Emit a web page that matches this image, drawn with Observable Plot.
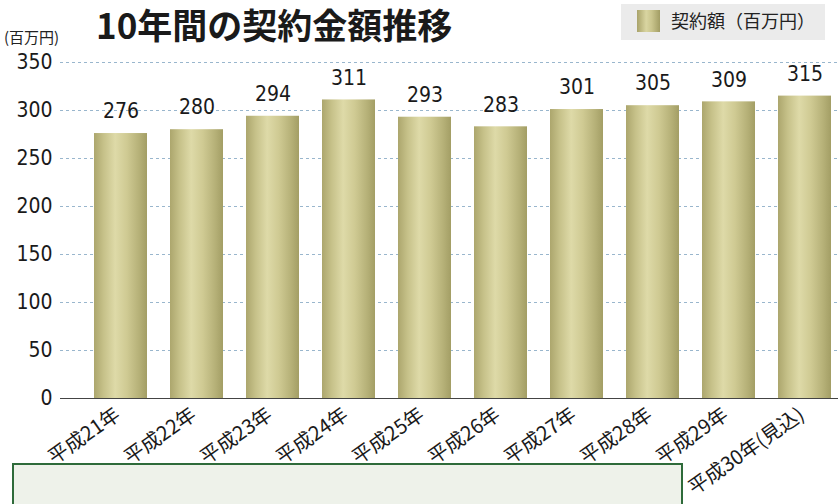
<!DOCTYPE html>
<html>
<head>
<meta charset="utf-8">
<script src="https://cdn.jsdelivr.net/npm/d3@7"></script>
<script src="https://cdn.jsdelivr.net/npm/@observablehq/plot@0.6"></script>
<style>
  html, body { margin: 0; padding: 0; background: #fff; }
  #wrap { position: relative; width: 838px; height: 504px; overflow: hidden; font-family: "Liberation Sans", "Noto Sans CJK JP", sans-serif; }
  #chart { position: absolute; left: 0; top: 0; }
  #title { position: absolute; left: 96px; top: 1px; line-height: 46px; font-family: "Noto Sans CJK JP", sans-serif; font-weight: 700; font-size: 35px; color: #1a1a1a; white-space: nowrap; }
  #unit { position: absolute; left: 4px; top: 26px; font-family: "Noto Sans CJK JP", sans-serif; font-size: 15px; color: #222; white-space: nowrap; }
  #legend { position: absolute; left: 621px; top: 4px; width: 204px; height: 36px; background: #ebebeb; }
  #legend .sw { position: absolute; left: 16px; top: 6px; width: 23px; height: 22px; background: linear-gradient(90deg, #a9a36a 0%, #d9d5a1 40%, #c9c48c 65%, #a29d64 100%); }
  #legend .lt { position: absolute; left: 50px; top: 3px; font-family: "Noto Sans CJK JP", sans-serif; font-size: 18px; color: #222; white-space: nowrap; }
  #note { position: absolute; left: 12px; top: 463px; width: 667px; height: 60px; border: 2px solid #2e6b3a; background: #eef2ea; }
</style>
</head>
<body>
<div id="wrap">
  <div id="note"></div>
  <div id="chart"></div>
  <div id="title">10年間の契約金額推移</div>
  <div id="unit">(百万円)</div>
  <div id="legend"><div class="sw"></div><div class="lt">契約額（百万円）</div></div>
</div>
<script>
const categories = ["平成21年","平成22年","平成23年","平成24年","平成25年","平成26年","平成27年","平成28年","平成29年","平成30年(見込)"];
const values = [276, 280, 294, 311, 293, 283, 301, 305, 309, 315];
const yTicks = [0, 50, 100, 150, 200, 250, 300, 350];
const gridTicks = [50, 100, 150, 200, 250, 300, 350];

const data = categories.map((c, i) => ({year: c, value: values[i]}));
const numFont = "'Liberation Sans Narrow', 'DejaVu Sans Condensed', 'Liberation Sans', sans-serif";

const chart = Plot.plot({
  width: 838,
  height: 462,
  marginLeft: 60,
  marginRight: 0,
  marginTop: 62,
  marginBottom: 64,
  style: { fontFamily: numFont, background: "transparent", overflow: "visible" },
  x: { domain: categories, range: [82, 844], paddingInner: 0.3, paddingOuter: 0.15, label: null },
  y: { domain: [0, 350], range: [398, 62], label: null },
  marks: [
    Plot.gridY(gridTicks, { stroke: "#7fa3c0", strokeOpacity: 1, strokeDasharray: "3,3", strokeWidth: 0.8 }),
    Plot.barY(data, { x: "year", y: "value", fill: "url(#barGrad)" }),
    Plot.ruleY([0], { stroke: "#444", strokeWidth: 1.2 }),
    Plot.text(data, { x: "year", y: "value", text: d => String(d.value), dy: -22, fontSize: 21, fill: "#1a1a1a", fontFamily: numFont }),
    Plot.axisY(yTicks, { tickSize: 0, tickPadding: 8, fontSize: 21, fill: "#1a1a1a", fontFamily: numFont }),
    Plot.axisX({ tickSize: 0, tickPadding: 14, dx: -3, tickRotate: -35, fontSize: 20, fill: "#1a1a1a", fontFamily: "'Noto Sans CJK JP', sans-serif" })
  ]
});

const svg = d3.select(chart);
const defs = svg.insert("defs", ":first-child");
const g = defs.append("linearGradient").attr("id", "barGrad").attr("x1", "0").attr("x2", "1").attr("y1", "0").attr("y2", "0");
[["0%", "#aca66d"], ["18%", "#c6c189"], ["40%", "#dedaa8"], ["62%", "#cfca93"], ["85%", "#b6b178"], ["100%", "#a39e65"]]
  .forEach(([o, c]) => g.append("stop").attr("offset", o).attr("stop-color", c));

document.getElementById("chart").appendChild(chart);
</script>
</body>
</html>
